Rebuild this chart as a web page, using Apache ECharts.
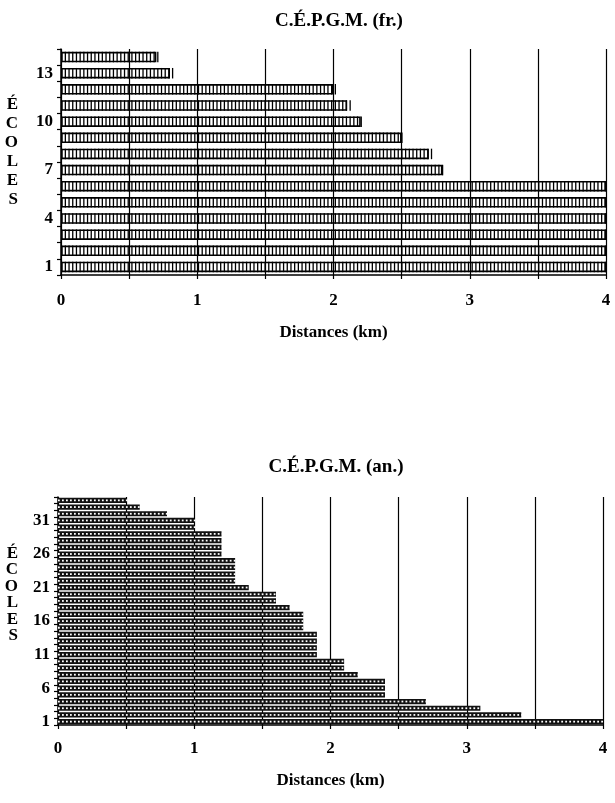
<!DOCTYPE html>
<html>
<head>
<meta charset="utf-8">
<script src="https://cdn.jsdelivr.net/npm/echarts@6/dist/echarts.min.js"></script>
<style>
html, body { margin: 0; padding: 0; background: #fff; }
#chart { width: 615px; height: 803px; }
</style>
</head>
<body>
<div id="chart"></div>
<script>
'use strict';
// ecoles 1..14 (fr.) and 1..34 (an.), distance in km
var ecolesFr = ['1', '2', '3', '4', '5', '6', '7', '8', '9', '10', '11', '12', '13', '14'];
var distFr = [4, 4, 4, 4, 4, 4, 2.8, 2.7, 2.5, 2.2, 2.1, 2.0, 0.8, 0.7];

var ecolesAn = [];
for (var i = 1; i <= 34; i++) ecolesAn.push(String(i));
var distAn = [4.0, 3.4, 3.1, 2.7, 2.4, 2.4, 2.4, 2.2, 2.1, 2.1,
	1.9, 1.9, 1.9, 1.9, 1.8, 1.8, 1.8, 1.7, 1.6, 1.6,
	1.4, 1.3, 1.3, 1.3, 1.3, 1.2, 1.2, 1.2, 1.2, 1.0,
	1.0, 0.8, 0.6, 0.5];

var kmLabels = [0, 1, 2, 3, 4];

var font = "'Liberation Serif', serif";
var txt = {
	fontFamily: font,
	fontWeight: 'bold',
	fontSize: 17,
	color: '#000'
};

function xAxis(idx, labelMargin, nameGap) {
	return {
		gridIndex: idx,
		type: 'value',
		min: 0,
		max: 4,
		interval: 0.5,
		name: 'Distances (km)',
		nameLocation: 'middle',
		nameGap: nameGap,
		nameTextStyle: txt,
		axisLine: { show: true, lineStyle: { color: '#000', width: 1.5 } },
		axisTick: { show: true, length: 4, lineStyle: { color: '#000', width: 1.2 } },
		splitLine: { show: true, lineStyle: { color: '#000', width: 1.2 } },
		axisLabel: Object.assign({
			margin: labelMargin,
			formatter: function (v) {
				return kmLabels.indexOf(v) >= 0 ? String(v) : '';
			}
		}, txt)
	};
}

// the trailing blank lines lift the vertical word a little above the middle
function yAxis(idx, cats, every, nameGap, name, lh) {
	return {
		gridIndex: idx,
		type: 'category',
		data: cats,
		name: name,
		nameLocation: 'middle',
		nameRotate: 0,
		nameGap: nameGap,
		nameTextStyle: Object.assign({ lineHeight: lh }, txt),
		axisLine: { show: true, lineStyle: { color: '#000', width: 1.5 } },
		axisTick: { show: true, interval: 0, length: 4, lineStyle: { color: '#000', width: 1.2 } },
		splitLine: { show: false },
		axisLabel: Object.assign({
			margin: 8,
			interval: function (i) {
				return i % every === 0;
			}
		}, txt)
	};
}

var myChart = echarts.init(document.getElementById('chart'));
var option = {
	animation: false,
	backgroundColor: '#fff',
	title: [{
		text: 'C.É.P.G.M. (fr.)',
		left: 334,
		textAlign: 'center',
		top: 7,
		textStyle: Object.assign({}, txt, { fontSize: 19 })
	}, {
		text: 'C.É.P.G.M. (an.)',
		left: 331,
		textAlign: 'center',
		top: 453,
		textStyle: Object.assign({}, txt, { fontSize: 19 })
	}],
	grid: [
		{ left: 61, right: 9, top: 49, height: 226 },
		{ left: 58, right: 12, top: 497, height: 228 }
	],
	xAxis: [xAxis(0, 17, 49), xAxis(1, 15, 47)],
	yAxis: [
		yAxis(0, ecolesFr, 3, 43, 'É\nC\nO\nL\nE\nS\n', 19),
		yAxis(1, ecolesAn, 5, 40, 'É\nC\nO\nL\nE\nS\n\n', 16.5)
	],
	series: [{
		type: 'bar',
		xAxisIndex: 0,
		yAxisIndex: 0,
		data: distFr,
		barWidth: 10.5,
		silent: true,
		z: 2,
		itemStyle: { color: 'rgba(0,0,0,0)', borderColor: '#000', borderWidth: 1.6 }
	}, {
		type: 'pictorialBar',
		xAxisIndex: 0,
		yAxisIndex: 0,
		data: distFr,
		symbol: 'rect',
		symbolRepeat: true,
		symbolSize: [1.3, 10.5],
		symbolMargin: 1.2,
		symbolPosition: 'start',
		silent: true,
		z: 4,
		itemStyle: { color: '#000' }
	}, {
		type: 'bar',
		xAxisIndex: 1,
		yAxisIndex: 1,
		data: distAn,
		barWidth: 5.2,
		silent: true,
		z: 2,
		itemStyle: { color: '#111' }
	}, {
		type: 'pictorialBar',
		xAxisIndex: 1,
		yAxisIndex: 1,
		data: distAn,
		symbol: 'rect',
		symbolRepeat: true,
		symbolSize: [1.8, 1.8],
		symbolMargin: 1.1,
		symbolPosition: 'start',
		silent: true,
		z: 10,
		itemStyle: { color: '#fff' }
	}]
};
myChart.setOption(option);
</script>
</body>
</html>
